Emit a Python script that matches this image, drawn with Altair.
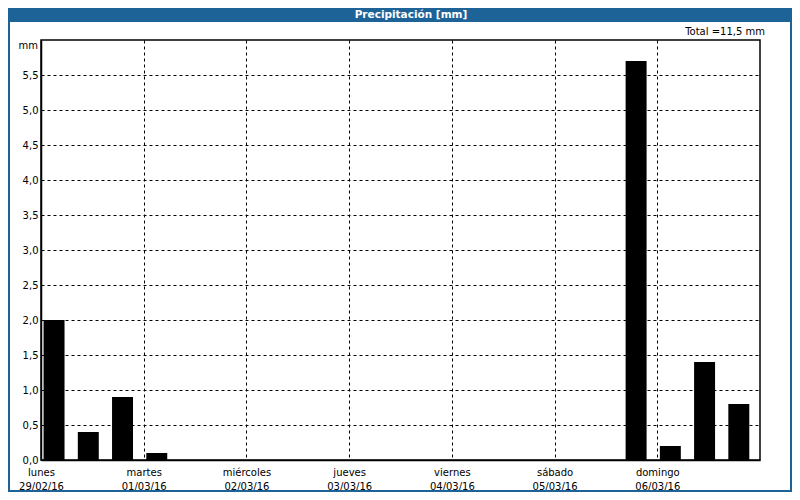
import json
import altair as alt
import pandas as pd

# ---- data ----
day_names = ["lunes", "martes", "miércoles", "jueves", "viernes", "sábado", "domingo"]
day_dates = ["29/02/16", "01/03/16", "02/03/16", "03/03/16", "04/03/16", "05/03/16", "06/03/16"]
# start of each 8-hour period, hours since lunes 29/02/16 00:00
period_start_h = [0, 8, 16, 24, 136, 144, 152, 160]
precip_mm = [2.0, 0.4, 0.9, 0.1, 5.7, 0.2, 1.4, 0.8]
title_text = "Precipitación [mm]"
unit_text = "mm"

total = sum(precip_mm)
total_text = "Total =" + f"{total:.1f}".replace(".", ",") + " mm"

FONT = "DejaVu Sans"
BLUE = "#1d6398"
W, H = 719, 420
PAD = {"left": 33, "top": 32, "right": 32, "bottom": 32}

df = pd.DataFrame({"h": period_start_h, "mm": precip_mm})

x_label_expr = (
    "[" + json.dumps(day_names, ensure_ascii=False) + "[round(datum.value/24)], "
    + json.dumps(day_dates, ensure_ascii=False) + "[round(datum.value/24)]]"
)

x_scale = alt.Scale(domain=[0, 168], nice=False, zero=False)
y_scale = alt.Scale(domain=[0, 6], nice=False)

bars = (
    alt.Chart(df)
    .transform_calculate(x0="datum.h + 0.6", x1="datum.h + 5.5")
    .mark_bar(color="#000000")
    .encode(
        x=alt.X(
            "x0:Q",
            scale=x_scale,
            axis=alt.Axis(
                title=None,
                values=[0, 24, 48, 72, 96, 120, 144],
                labelExpr=x_label_expr,
                ticks=False,
                labelPadding=7,
                labelBaseline="top",
                labelLineHeight=14,
                labelAlign="center",
                labelFlush=False,
                grid=True,
                gridDash=[3, 3],
                gridColor="#000000",
                gridOpacity=1,
                domainColor="#000000",
            ),
        ),
        x2="x1:Q",
        y=alt.Y(
            "mm:Q",
            scale=y_scale,
            axis=alt.Axis(
                title=None,
                values=[i * 0.5 for i in range(12)],
                labelExpr="replace(format(datum.value, '.1f'), '.', ',')",
                ticks=False,
                labelPadding=3,
                labelFlush=False,
                grid=True,
                gridDash=[3, 3],
                gridColor="#000000",
                gridOpacity=1,
                domainColor="#000000",
            ),
        ),
        y2=alt.datum(0),
    )
)

one = pd.DataFrame({"t": [title_text], "total": [total_text], "u": [unit_text]})

frame = alt.Chart(one).mark_rect(fill=None, stroke=BLUE, strokeWidth=2).encode(
    x=alt.value(-32), x2=alt.value(W + 31), y=alt.value(-31), y2=alt.value(H + 31)
)
title_bar = alt.Chart(one).mark_rect(color=BLUE).encode(
    x=alt.value(-33), x2=alt.value(W + 32), y=alt.value(-32), y2=alt.value(-18)
)
title = alt.Chart(one).mark_text(
    font=FONT, fontSize=10.5, fontWeight="bold", color="white", baseline="middle", align="center"
).encode(text="t:N", x=alt.value(370), y=alt.value(-25))
total_lbl = alt.Chart(one).mark_text(
    font=FONT, fontSize=10, color="#000000", baseline="middle", align="right"
).encode(text="total:N", x=alt.value(724), y=alt.value(-8))
unit_lbl = alt.Chart(one).mark_text(
    font=FONT, fontSize=10, color="#000000", baseline="middle", align="right"
).encode(text="u:N", x=alt.value(-3), y=alt.value(6))

chart = (
    alt.layer(bars, frame, title_bar, title, total_lbl, unit_lbl)
    .properties(
        width=W,
        height=H,
        autosize=alt.AutoSizeParams(type="none"),
        padding=PAD,
        background="#ffffff",
    )
    .configure_view(stroke="#000000", strokeWidth=1.5)
    .configure_axis(labelFont=FONT, labelFontSize=10, labelColor="#000000", domainWidth=1.5)
)

chart.save("out.html", embed_options={"renderer": "svg", "actions": False})
